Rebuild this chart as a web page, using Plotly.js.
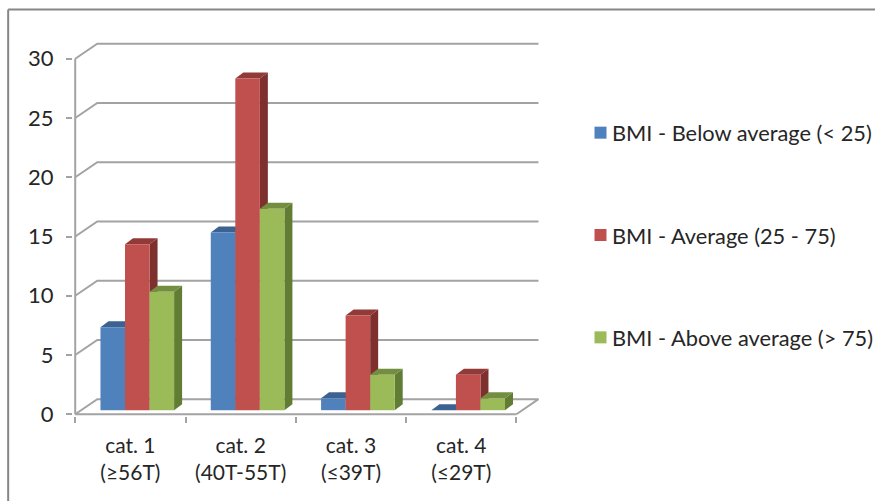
<!DOCTYPE html>
<html><head><meta charset="utf-8">
<script src="https://cdn.plot.ly/plotly-3.0.1.min.js"></script>
<style>html,body{margin:0;padding:0;background:#fff}#c{width:875px;height:501px}</style>
</head><body><div id="c"></div>
<script>
const categories = ['cat. 1<br>(≥56T)', 'cat. 2<br>(40T-55T)', 'cat. 3<br>(≤39T)', 'cat. 4<br>(≤29T)'];
const seriesNames = ['BMI - Below average (< 25)', 'BMI - Average (25 - 75)', 'BMI - Above average (> 75)'];
const belowAvg = [7, 15, 1, 0];
const average = [14, 28, 8, 3];
const aboveAvg = [10, 17, 3, 1];
const yTicks = [0, 5, 10, 15, 20, 25, 30];

const seriesValues = [belowAvg, average, aboveAvg];
const frontColors = ['#4F81BD', '#C0504D', '#9BBB59'];
const topColors = ['#3B6291', '#923A38', '#748E41'];
const sideColors = ['#335680', '#7D302E', '#617D33'];
const gridColor = '#A3A3A3';
const textColor = '#262626';
const fontFam = 'Lato, Carlito, "Open Sans", sans-serif';

// pseudo-3D depth, in axis units
const wallDx = 0.2, wallDy = 1.27;
const faceDx = 0.0726, faceDy = 0.507;
const barW = 0.2225, barStart = -0.271, barBase = 0.34;

const traces = [];
const xLeft = -0.5, xRight = 3.5;
const xRange = [-0.52, 3.75], yRange = [-0.15, 31.5];
const line = (xs, ys) => ({
  type: 'scatter', mode: 'lines', x: xs, y: ys,
  line: {color: gridColor, width: 2}, showlegend: false, hoverinfo: 'skip',
  xaxis: 'x', yaxis: 'y'
});
const poly = (xs, ys, color) => ({
  type: 'scatter', mode: 'lines', x: xs, y: ys, fill: 'toself', fillcolor: color,
  line: {width: 0, color: color}, showlegend: false, hoverinfo: 'skip',
  xaxis: 'x', yaxis: 'y'
});

// back wall grid lines with their diagonal run to the front axis
yTicks.forEach(v => {
  traces.push(line(
    v === 0 ? [xLeft, xLeft + wallDx, xRight + wallDx, xRight]
            : [xLeft, xLeft + wallDx, xRight + wallDx],
    v === 0 ? [v, v + wallDy, v + wallDy, v] : [v, v + wallDy, v + wallDy]));
});
// front axis lines
traces.push(line([xLeft, xLeft], [0, 30]));
traces.push(line([xLeft, xRight], [0, 0]));

// side and top faces of each bar
seriesValues.forEach((vals, s) => {
  vals.forEach((v, i) => {
    const x0 = i + barStart + s * barW, x1 = x0 + barW;
    const y0 = barBase, y1 = barBase + v;
    traces.push(poly([x1, x1 + faceDx, x1 + faceDx, x1, x1],
                     [y0, y0 + faceDy, y1 + faceDy, y1, y0], sideColors[s]));
    traces.push(poly([x0, x1, x1 + faceDx, x0 + faceDx, x0],
                     [y1, y1, y1 + faceDy, y1 + faceDy, y1], topColors[s]));
  });
});

// front faces: the real bars, on an overlaying category axis so they sit on top
seriesValues.forEach((vals, s) => {
  traces.push({
    type: 'bar', name: seriesNames[s], x: categories, y: vals,
    base: vals.map(() => barBase), width: barW, offset: barStart + s * barW,
    marker: {color: frontColors[s], line: {width: 0}},
    legendgroup: 'g' + s, xaxis: 'x2', yaxis: 'y'
  });
});

const W = 875, H = 501;
const l = 72.8, r = 331.4, t = 41.4, b = 85.2;
const px = v => (v - l) / (W - l - r);
const py = v => 1 - (v - t) / (H - t - b);

const layout = {
  width: W, height: H, paper_bgcolor: '#fff', plot_bgcolor: 'rgba(0,0,0,0)',
  margin: {l, r, t, b, pad: 0},
  font: {family: fontFam, color: textColor, size: 21},
  barmode: 'overlay',
  xaxis: {
    type: 'linear', range: xRange, tickmode: 'array',
    tickvals: [-0.5, 0.5, 1.5, 2.5, 3.5], ticktext: ['', '', '', '', ''],
    ticks: 'outside', ticklen: 6, tickwidth: 2, tickcolor: gridColor,
    showline: false, showgrid: false, zeroline: false, fixedrange: true
  },
  xaxis2: {
    type: 'category', overlaying: 'x', anchor: 'y', side: 'bottom',
    categoryorder: 'array', categoryarray: categories, range: xRange,
    ticks: '', showline: false, showgrid: false, zeroline: false, fixedrange: true,
    tickfont: {family: fontFam, size: 21, color: textColor}, ticklabelstandoff: 15, automargin: false
  },
  yaxis: {
    range: yRange, tickmode: 'array', tickvals: yTicks, ticktext: yTicks.map(String),
    ticks: 'outside', ticklen: 6, tickwidth: 2, tickcolor: gridColor,
    showline: false, showgrid: false, zeroline: false, fixedrange: true,
    tickfont: {family: fontFam, size: 22, color: textColor}, ticklabelstandoff: 8
  },
  showlegend: true,
  legend: {
    xref: 'container', yref: 'container',
    x: 572 / W, xanchor: 'left', y: 1 - 112 / H, yanchor: 'top',
    font: {family: fontFam, size: 21.8, color: textColor},
    traceorder: 'grouped', tracegroupgap: 71, bgcolor: 'rgba(0,0,0,0)', borderwidth: 0
  },
  shapes: [
    {type: 'line', xref: 'paper', yref: 'paper', x0: px(8), x1: px(875), y0: py(10), y1: py(10), line: {color: '#868686', width: 2}},
    {type: 'line', xref: 'paper', yref: 'paper', x0: px(8), x1: px(8), y0: py(10), y1: py(501), line: {color: '#868686', width: 2}}
  ]
};

Plotly.newPlot('c', traces, layout, {displayModeBar: false, staticPlot: true}).then(gd => {
  gd.querySelectorAll('.legendsymbols').forEach(n => n.setAttribute('transform', 'translate(8.5,0)'));
});
</script></body></html>
